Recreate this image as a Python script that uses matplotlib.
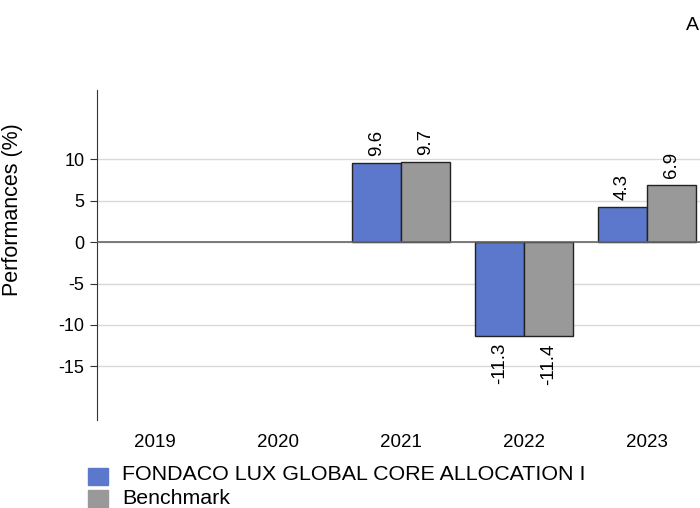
import numpy as np
import matplotlib.pyplot as plt

plt.rcParams['font.family'] = ['Liberation Sans', 'DejaVu Sans']

years = ["2019", "2020", "2021", "2022", "2023"]
fund = [np.nan, np.nan, 9.6, -11.3, 4.3]
bench = [np.nan, np.nan, 9.7, -11.4, 6.9]
fund_name = "FONDACO LUX GLOBAL CORE ALLOCATION I"
bench_name = "Benchmark"

blue = "#5b78cc"
grey = "#999999"

fig = plt.figure(figsize=(7, 5.08), dpi=100)
ax = fig.add_axes([97 / 700, 1 - 420 / 508, 1 - 97 / 700, 330 / 508])

x = np.arange(len(years))
w = 0.4
bars_f = ax.bar(x - w / 2, fund, w, color=blue, edgecolor="#222222", linewidth=1, zorder=3)
bars_b = ax.bar(x + w / 2, bench, w, color=grey, edgecolor="#222222", linewidth=1, zorder=3)

for bars in (bars_f, bars_b):
    for b in bars:
        v = b.get_height()
        if np.isnan(v):
            continue
        off = 5 if v >= 0 else -5
        ax.annotate(f"{v:.1f}", (b.get_x() + b.get_width() / 2, v),
                    xytext=(0, off), textcoords="offset points",
                    rotation=90, ha="center", va="bottom" if v >= 0 else "top",
                    fontsize=13.5)

ax.set_xlim(-0.47, 4.43)
ax.set_ylim(-21.5, 18.4)
ax.set_yticks([-15, -10, -5, 0, 5, 10])
ax.set_yticklabels(["-15", "-10", "-5", "0", "5", "10"])
ax.set_xticks(x)
ax.set_xticklabels(years)
ax.tick_params(axis="x", length=0, pad=10, labelsize=13.5)
ax.tick_params(axis="y", length=5, color="#333333", labelsize=13, pad=4)

ax.grid(axis="y", color="#d9d9d9", linewidth=1, zorder=0)
ax.axhline(0, color="#666666", linewidth=1.2, zorder=4)
for s in ("top", "right", "bottom"):
    ax.spines[s].set_visible(False)
ax.spines["left"].set_color("#333333")
ax.set_ylabel("Performances (%)", fontsize=15.5)
ax.yaxis.set_label_coords(-0.122, 0.636)

# legend drawn in figure coordinates below the axes
fig.patches.append(plt.Rectangle((88 / 700, 1 - 485 / 508), 20 / 700, 17 / 508,
                                 transform=fig.transFigure, color=blue))
fig.patches.append(plt.Rectangle((88 / 700, 1 - 507 / 508), 20 / 700, 17 / 508,
                                 transform=fig.transFigure, color=grey))
fig.text(122 / 700, 1 - 474 / 508, fund_name, fontsize=15.4, va="center")
fig.text(122 / 700, 1 - 499 / 508, bench_name, fontsize=15.4, va="center")

fig.text(686 / 700, 1 - 25 / 508, "A", fontsize=14, va="center", ha="left")

fig.savefig("out.png", dpi=100)
